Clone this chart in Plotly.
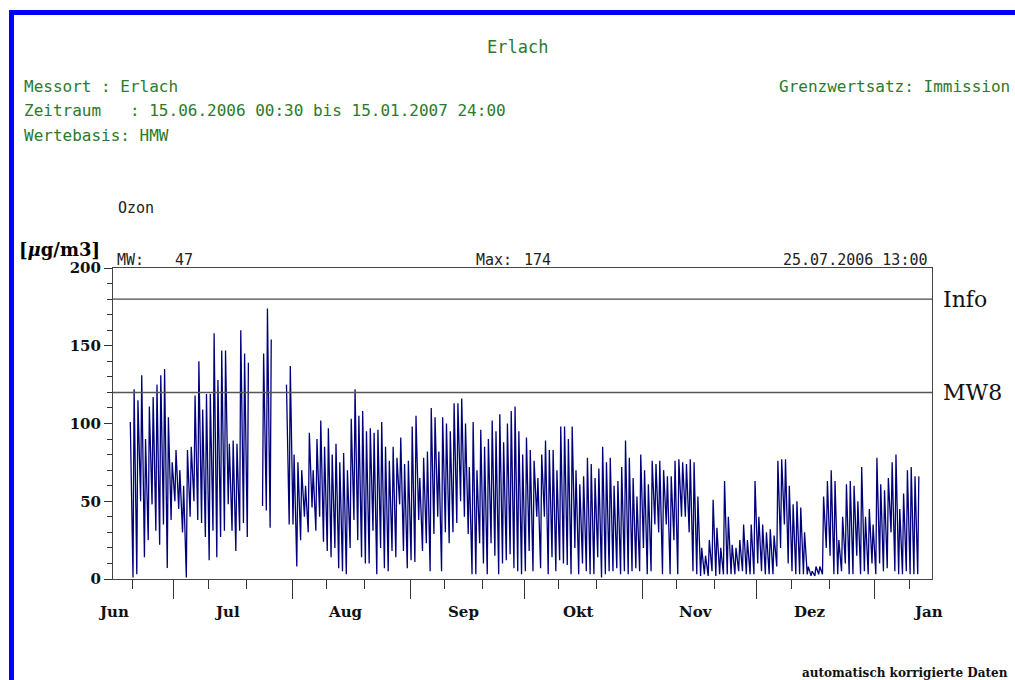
import pandas as pd
import plotly.graph_objects as go

# Ozone, Erlach: daily morning minimum / afternoon maximum (µg/m3), half-hour basis
# index 0 = 15.06.2006; None = no data
high_jun = [None, None, None, None, 101, 122, 115, 131, 90, 111, 117, 125, 131, 135, 104, 75]
high_jul = [83, 70, 60, 83, 85, 118, 140, 109, 119, 119,
            158, 128, 147, 147, 87, 89, 87, 160, 145, 139,
            None, None, None, 145, 174, 154, None, None, None, 125,
            137]
high_aug = [80, 75, 70, 60, 94, 70, 90, 102, 85, 97,
            80, 87, 75, 81, 70, 103, 122, 105, 108, 95,
            97, 94, 96, 101, 85, 76, 85, 78, 91, 74,
            76]
high_sep = [98, 105, 65, 78, 82, 110, 104, 82, 104, 100,
            95, 113, 113, 116, 100, 72, 101, 70, 96, 85,
            90, 102, 95, 106, 88, 100, 108, 111, 95, 80]
high_okt = [91, 83, 76, 65, 80, 89, 83, 83, 70, 98,
            98, 90, 98, 70, 61, 66, 78, 74, 65, 71,
            85, 75, 78, 60, 63, 72, 89, 78, 65, 53,
            80]
high_nov = [70, 61, 76, 74, 76, 70, 66, 66, 76, 77,
            75, 74, 77, 75, 53, 20, 15, 25, 51, 33,
            20, 63, 40, 22, 20, 25, 35, 25, 35, 63]
high_dez = [40, 35, 30, 32, 28, 76, 77, 77, 60, 48,
            50, 46, 30, 8, 5, 8, 8, 53, 63, 70,
            63, 25, 40, 61, 63, 60, 50, 72, 40, 45,
            35]
high_jan = [78, 61, 57, 65, 75, 80, 45, 55, 70, 72, 66, 66]

low_jun = [None, None, None, None, None, 1, 3, 50, 14, 25, 48, 31, 22, 35, 7, 38]
low_jul = [50, 45, 30, 1, 40, 50, 38, 36, 27, 12,
           31, 14, 27, 31, 48, 31, 18, 31, 36, 27,
           None, None, None, 47, 44, 33, None, None, None, None,
           35]
low_aug = [35, 8, 25, 40, 30, 46, 31, 40, 24, 18,
           14, 20, 7, 5, 3, 20, 38, 25, 14, 10,
           10, 31, 3, 20, 7, 5, 18, 14, 48, 18,
           7]
low_sep = [12, 11, 38, 18, 23, 5, 29, 40, 5, 30,
           23, 30, 36, 50, 40, 29, 3, 3, 23, 10,
           3, 23, 15, 3, 10, 12, 16, 7, 5, 3]
low_okt = [5, 18, 5, 40, 7, 40, 3, 14, 5, 12,
           10, 9, 3, 20, 3, 10, 5, 3, 3, 14,
           1, 3, 5, 5, 7, 3, 5, 3, 5, 7,
           5]
low_nov = [20, 3, 5, 35, 30, 3, 35, 3, 25, 3,
           40, 40, 30, 5, 3, 2, 3, 2, 5, 2,
           3, 3, 3, 3, 3, 5, 5, 3, 3, 3]
low_dez = [10, 5, 3, 3, 3, 8, 20, 35, 10, 5,
           3, 3, 3, 3, 2, 2, 3, 3, 20, 15,
           3, 3, 5, 10, 3, 3, 15, 3, 5, 3,
           10]
low_jan = [3, 10, 5, 7, 30, 5, 3, 3, 5, 3, 3, 3]

months = ["Jun", "Jul", "Aug", "Sep", "Okt", "Nov", "Dez", "Jan"]
month_mid = ["2006-06-15", "2006-07-15", "2006-08-15", "2006-09-15",
             "2006-10-15", "2006-11-15", "2006-12-15", "2007-01-15"]
month_start = ["2006-07-01", "2006-08-01", "2006-09-01", "2006-10-01",
               "2006-11-01", "2006-12-01", "2007-01-01"]
y_ticks = [0, 50, 100, 150, 200]
limits = {"Info": 180, "MW8": 120}

day_high = high_jun + high_jul + high_aug + high_sep + high_okt + high_nov + high_dez + high_jan
day_low = low_jun + low_jul + low_aug + low_sep + low_okt + low_nov + low_dez + low_jan

start = pd.Timestamp("2006-06-15")
times, values = [], []
for d, (lo, hi) in enumerate(zip(day_low, day_high)):
    day = start + pd.Timedelta(days=d)
    times += [day + pd.Timedelta(hours=6), day + pd.Timedelta(hours=13)]
    values += [lo, hi]

# minor x ticks on the 10th and 20th of each month
minor_x = []
for m in pd.date_range("2006-06-01", "2007-01-01", freq="MS"):
    for dd in (10, 20):
        t = m + pd.Timedelta(days=dd - 1)
        if pd.Timestamp("2006-06-15") <= t <= pd.Timestamp("2007-01-16"):
            minor_x.append(t.strftime("%Y-%m-%d"))

# plot area in pixels
L, T, W, H = 113, 268, 819, 311
FIG_W, FIG_H = 1015, 680


def fx(x):
    return (x - L) / W


def fy(y):
    return (T + H - y) / H


fig = go.Figure()
fig.add_trace(go.Scatter(
    x=times, y=values, mode="lines",
    line=dict(color="#00007a", width=1.3),
    connectgaps=False, hoverinfo="skip", showlegend=False,
))

serif = "DejaVu Serif"
mono = "DejaVu Sans Mono"
green = "#2b7a2b"

ann = []


def text(s, x, y, size, color="#000", font=mono, anchor="left", weight="normal"):
    ann.append(dict(text=s, x=fx(x), y=fy(y), xref="paper", yref="paper",
                    xanchor=anchor, yanchor="middle", showarrow=False,
                    font=dict(size=size, color=color, family=font, weight=weight)))


text("Erlach", 517, 47, 17, green, anchor="center")
text("Messort : Erlach", 22, 86, 16, green)
text("Zeitraum\u00a0\u00a0 : 15.06.2006 00:30 bis 15.01.2007 24:00", 22, 110, 16, green)
text("Wertebasis: HMW", 22, 135, 16, green)
text("Grenzwertsatz: Immission", 1012, 86, 16, green, anchor="right")
text("Ozon", 116, 208, 15, "#222")
text("[<i>\u03bc</i>g/m3]", 17, 250, 18, font=serif, weight="bold")
text("MW:", 115, 260, 15, "#222")
text("47", 173, 260, 15, "#222")
text("Max:", 474, 260, 15, "#222")
text("174", 522, 260, 15, "#222")
text("25.07.2006 13:00", 930, 260, 15, "#222", anchor="right")
for name, val in limits.items():
    ann.append(dict(text=name, x=fx(941), y=val, xref="paper", yref="y",
                    xanchor="left", yanchor="middle", showarrow=False,
                    font=dict(size=22, color="#111", family=serif)))
for name, mid in zip(months, month_mid):
    ann.append(dict(text=name, x=mid, y=fy(612), xref="x", yref="paper",
                    xanchor="center", yanchor="middle", showarrow=False,
                    font=dict(size=15, color="#111", family=serif, weight="bold")))
text("automatisch korrigierte Daten", 1010, 673, 12, "#111", font=serif,
     anchor="right", weight="bold")

shapes = [
    # blue page frame
    dict(type="rect", xref="paper", yref="paper", x0=fx(9), x1=fx(1016),
         y0=fy(15), y1=fy(10), fillcolor="#0000ff", line=dict(width=0), layer="above"),
    dict(type="rect", xref="paper", yref="paper", x0=fx(9), x1=fx(14),
         y0=fy(681), y1=fy(10), fillcolor="#0000ff", line=dict(width=0), layer="above"),
    # limit lines
    dict(type="line", xref="paper", yref="y", x0=0, x1=1,
         y0=limits["Info"], y1=limits["Info"], line=dict(color="#1a1a1a", width=1)),
    dict(type="line", xref="paper", yref="y", x0=0, x1=1,
         y0=limits["MW8"], y1=limits["MW8"], line=dict(color="#555", width=1.5)),
]

fig.update_layout(
    width=FIG_W, height=FIG_H,
    margin=dict(l=L, r=FIG_W - L - W, t=T, b=FIG_H - T - H, pad=0),
    paper_bgcolor="white", plot_bgcolor="white",
    showlegend=False,
    annotations=ann, shapes=shapes,
    xaxis=dict(
        type="date", range=["2006-06-15", "2007-01-16"],
        showgrid=False, zeroline=False,
        showline=True, linecolor="#444", linewidth=1, mirror=True,
        tickmode="array", tickvals=month_start, ticks="outside",
        ticklen=19, tickwidth=1, tickcolor="#333", showticklabels=False,
        minor=dict(tickmode="array", tickvals=minor_x, ticks="outside",
                   ticklen=9, tickwidth=1, tickcolor="#333", showgrid=False),
    ),
    yaxis=dict(
        range=[0, 200], showgrid=False, zeroline=False,
        showline=True, linecolor="#444", linewidth=1, mirror=True,
        tickmode="array", tickvals=y_ticks, ticks="outside",
        ticklen=8, tickwidth=1, tickcolor="#333",
        tickfont=dict(family=serif, size=15, color="#111", weight="bold"),
        ticklabelstandoff=0,
        minor=dict(dtick=10, ticks="outside", ticklen=5, tickwidth=1,
                   tickcolor="#333", showgrid=False),
    ),
)

fig.write_html("out.html")
